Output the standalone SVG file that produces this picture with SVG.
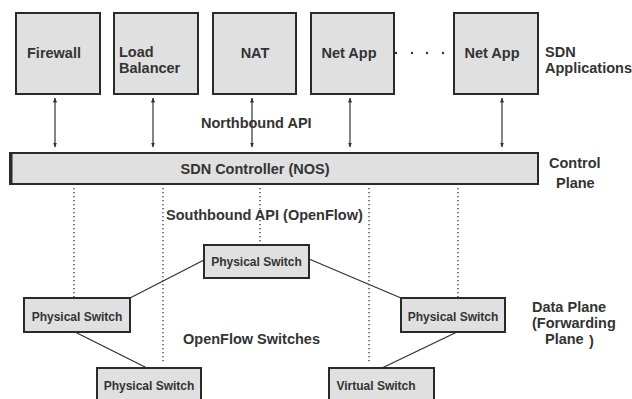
<svg xmlns="http://www.w3.org/2000/svg" width="632" height="399" viewBox="0 0 632 399">
<style>
text{font-family:"Liberation Sans",Arial,sans-serif;font-weight:bold;fill:#333}
.lbl{font-size:14.5px}
.sw{font-size:12px}
.box{fill:#e0e0e0;stroke:#2a2a2a;stroke-width:2}
.arr{stroke:#333;stroke-width:1.2;fill:none;marker-start:url(#ah);marker-end:url(#ah)}
.dot{stroke:#333;stroke-width:1.3;stroke-dasharray:1.3 2.7;fill:none}
.ln{stroke:#333;stroke-width:1.3;fill:none}
</style>
<defs>
<marker id="ah" viewBox="0 0 10 10" refX="9" refY="5" markerWidth="5" markerHeight="5" orient="auto-start-reverse" markerUnits="userSpaceOnUse">
<path d="M0,1 L10,5 L0,9 z" fill="#333"/>
</marker>
</defs>
<rect width="632" height="399" fill="#fff"/>
<g id="connectors">
<line class="arr" x1="55" y1="98" x2="55" y2="147"/>
<line class="arr" x1="153" y1="98" x2="153" y2="147"/>
<line class="arr" x1="252" y1="98" x2="252" y2="147"/>
<line class="arr" x1="350" y1="98" x2="350" y2="147"/>
<line class="arr" x1="502" y1="98" x2="502" y2="147"/>
<line class="dot" x1="74" y1="188" x2="74" y2="297"/>
<line class="dot" x1="163" y1="188" x2="163" y2="362"/>
<line class="dot" x1="260" y1="188" x2="260" y2="244"/>
<line class="dot" x1="369" y1="188" x2="369" y2="362"/>
<line class="dot" x1="458" y1="188" x2="458" y2="297"/>
<line class="ln" x1="204" y1="260" x2="130" y2="298"/>
<line class="ln" x1="309" y1="259" x2="401" y2="298"/>
<line class="ln" x1="75" y1="332" x2="147" y2="368"/>
<line class="ln" x1="457" y1="332" x2="382" y2="368"/>
<g fill="#333"><circle cx="396" cy="53" r="1.2"/><circle cx="412" cy="53" r="1.2"/><circle cx="427" cy="53" r="1.2"/><circle cx="443" cy="53" r="1.2"/></g>
</g>
<g id="firewall"><rect class="box" x="16" y="13" width="84" height="81"/><text class="lbl" x="27" y="58">Firewall</text></g>
<g id="loadbalancer"><rect class="box" x="114" y="13" width="84" height="81"/><text class="lbl" x="119" y="57">Load</text><text class="lbl" x="119" y="73">Balancer</text></g>
<g id="nat"><rect class="box" x="213" y="13" width="83" height="81"/><text class="lbl" x="255" y="58" text-anchor="middle">NAT</text></g>
<g id="netapp1"><rect class="box" x="311" y="13" width="83" height="81"/><text class="lbl" x="349" y="58" text-anchor="middle">Net App</text></g>
<g id="netapp2"><rect class="box" x="454" y="13" width="84" height="81"/><text class="lbl" x="492" y="58" text-anchor="middle">Net App</text></g>
<g id="controller"><rect class="box" x="10" y="153" width="528" height="31"/><line x1="11" y1="153" x2="11" y2="184" stroke="#2a2a2a" stroke-width="3"/><text class="lbl" x="255" y="174" text-anchor="middle">SDN Controller (NOS)</text></g>
<g id="sw-top"><rect class="box" x="204" y="245" width="105" height="33"/><text class="sw" x="256.5" y="266" text-anchor="middle">Physical Switch</text></g>
<g id="sw-left"><rect class="box" x="24" y="298" width="106" height="34"/><text class="sw" x="77" y="321" text-anchor="middle">Physical Switch</text></g>
<g id="sw-right"><rect class="box" x="401" y="298" width="104" height="34"/><text class="sw" x="453" y="321" text-anchor="middle">Physical Switch</text></g>
<g id="sw-bottom"><rect class="box" x="97" y="368" width="104" height="36"/><text class="sw" x="149" y="390" text-anchor="middle">Physical Switch</text></g>
<g id="sw-virtual"><rect class="box" x="329" y="368" width="105" height="36"/><text class="sw" x="376" y="390" text-anchor="middle">Virtual Switch</text></g>
<g id="labels">
<text class="lbl" x="201" y="128">Northbound API</text>
<text class="lbl" x="166" y="220">Southbound API (OpenFlow)</text>
<text class="lbl" x="183" y="344">OpenFlow Switches</text>
<text class="lbl" x="545" y="57">SDN</text>
<text class="lbl" x="545" y="73">Applications</text>
<text class="lbl" x="549" y="168">Control</text>
<text class="lbl" x="556" y="188">Plane</text>
<text class="lbl" x="532" y="312">Data Plane</text>
<text class="lbl" x="532" y="328">(Forwarding</text>
<text class="lbl" x="545" y="344">Plane</text>
<text class="lbl" x="589" y="346">)</text>
</g>
</svg>
